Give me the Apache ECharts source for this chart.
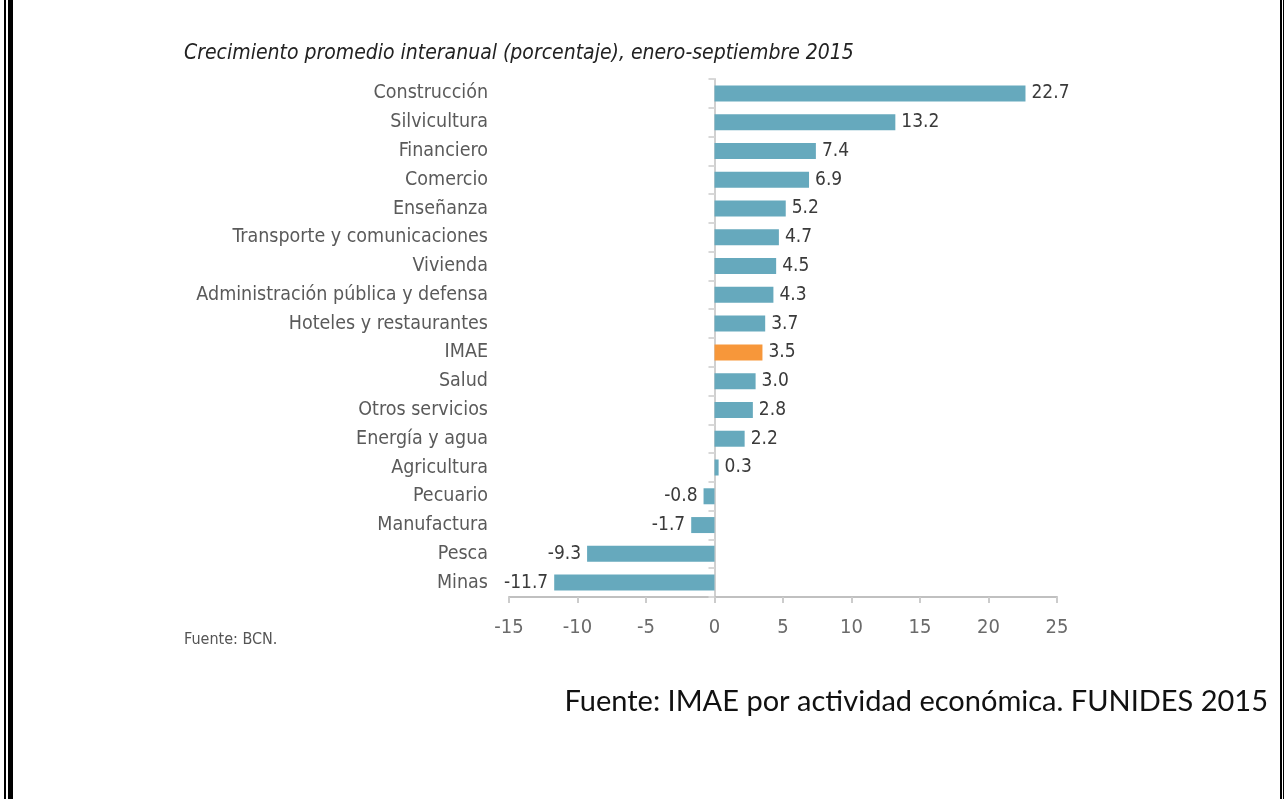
<!DOCTYPE html>
<html>
<head>
<meta charset="utf-8">
<script src="https://cdn.jsdelivr.net/npm/echarts@6/dist/echarts.min.js"></script>
<style>
  html, body { margin: 0; padding: 0; background: #fff; }
  #chart { width: 1284px; height: 799px; }
</style>
</head>
<body>
<div id="chart"></div>
<script>
const categories = [
  'Construcción', 'Silvicultura', 'Financiero', 'Comercio', 'Enseñanza',
  'Transporte y comunicaciones', 'Vivienda', 'Administración pública y defensa',
  'Hoteles y restaurantes', 'IMAE', 'Salud', 'Otros servicios', 'Energía y agua',
  'Agricultura', 'Pecuario', 'Manufactura', 'Pesca', 'Minas'
];
const values = [22.7, 13.2, 7.4, 6.9, 5.2, 4.7, 4.5, 4.3, 3.7, 3.5, 3.0, 2.8, 2.2, 0.3, -0.8, -1.7, -9.3, -11.7];
const highlightCategory = 'IMAE';
const xTicks = [-15, -10, -5, 0, 5, 10, 15, 20, 25];

const titleText = 'Crecimiento promedio interanual (porcentaje), enero-septiembre 2015';
const sourceSmall = 'Fuente: BCN.';
const sourceBig = 'Fuente: IMAE por actividad económica. FUNIDES 2015';

const narrow = "'Liberation Sans Narrow', 'DejaVu Sans Condensed', 'Roboto Condensed', sans-serif";
const barColor = '#66a9bd';
const hiColor = '#f7973a';

const seriesData = values.map((v, i) => ({
  value: v,
  itemStyle: { color: categories[i] === highlightCategory ? hiColor : barColor },
  label: { position: v < 0 ? 'left' : 'right' }
}));

const chart = echarts.init(document.getElementById('chart'), null, { renderer: 'canvas' });
chart.setOption({
  animation: false,
  backgroundColor: '#fff',
  grid: { left: 509, right: 227, top: 79, bottom: 202, containLabel: false },
  xAxis: {
    type: 'value',
    min: xTicks[0], max: xTicks[xTicks.length - 1], interval: 5,
    axisLine: { show: true, onZero: false, lineStyle: { color: '#c0c0c0', width: 2 } },
    axisTick: { show: true, length: 6, lineStyle: { color: '#cccccc', width: 2 } },
    splitLine: { show: false },
    axisLabel: {
      margin: 21, color: '#6a6a6a', fontFamily: narrow, fontSize: 20,
      formatter: v => String(v)
    }
  },
  yAxis: [
    {
      type: 'category', data: categories, inverse: true, position: 'left',
      axisLine: { show: false, onZero: false },
      axisTick: { show: false },
      axisLabel: { margin: 21, color: '#5a5a5a', fontFamily: narrow, fontSize: 19.5 }
    },
    {
      type: 'category', data: categories, inverse: true, position: 'left',
      axisLine: { show: true, onZero: true, onZeroAxisIndex: 0, lineStyle: { color: '#d0d0d0', width: 2 } },
      axisTick: { show: true, length: 6, lineStyle: { color: '#d8d8d8', width: 2 } },
      axisLabel: { show: false }
    }
  ],
  series: [{
    type: 'bar',
    yAxisIndex: 0,
    data: seriesData,
    barWidth: 16,
    z: 1,
    label: {
      show: true, distance: 6, color: '#3a3a3a', fontFamily: narrow, fontSize: 19,
      formatter: p => p.value.toFixed(1)
    }
  }],
  graphic: [
    { type: 'text', left: 184, top: 43, style: { text: titleText, fill: '#222', font: "italic 21px " + narrow } },
    { type: 'text', left: 184, top: 632, style: { text: sourceSmall, fill: '#555', font: "16px " + narrow } },
    { type: 'text', right: 16, top: 687, style: { text: sourceBig, fill: '#111', font: "29px Lato, 'Open Sans', sans-serif" } },
    { type: 'rect', shape: { x: 4, y: 0, width: 2, height: 799 }, style: { fill: '#000' } },
    { type: 'rect', shape: { x: 8, y: 0, width: 5, height: 799 }, style: { fill: '#000' } },
    { type: 'rect', shape: { x: 1280, y: 0, width: 2, height: 799 }, style: { fill: '#000' } },
    { type: 'rect', shape: { x: 1283, y: 0, width: 1, height: 799 }, style: { fill: '#000' } }
  ]
});
</script>
</body>
</html>
